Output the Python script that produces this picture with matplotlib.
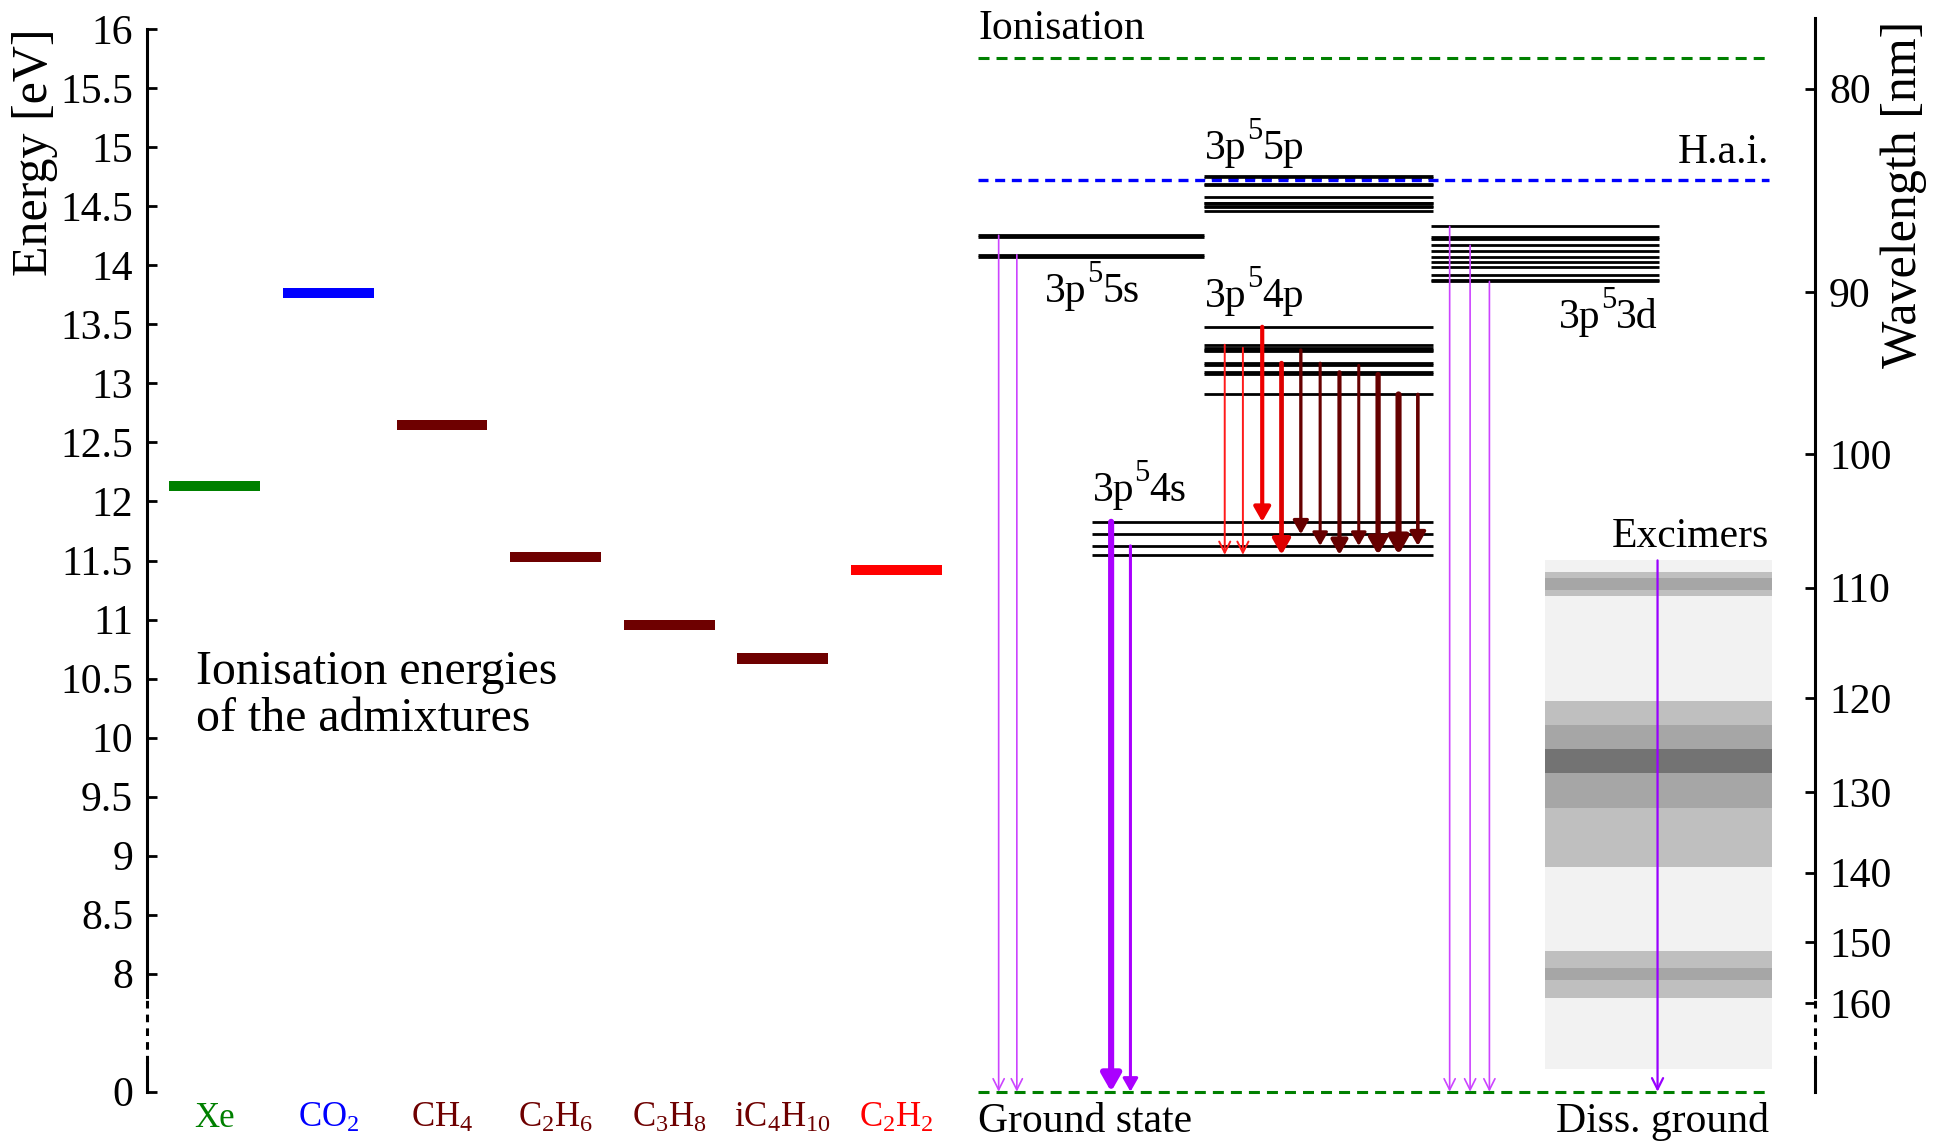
import numpy as np
import matplotlib.pyplot as plt
from matplotlib.font_manager import FontProperties

plt.rcParams['font.family'] = ['Liberation Serif', 'DejaVu Serif']
plt.rcParams['mathtext.fontset'] = 'custom'
plt.rcParams['mathtext.rm'] = 'Liberation Serif'
plt.rcParams['mathtext.it'] = 'Liberation Serif:italic'
plt.rcParams['mathtext.bf'] = 'Liberation Serif:bold'

HC = 1239.84      # eV*nm
GROUND = 7.0      # "0 eV" sits here on the broken axis

# left panel: ionisation energies of the admixtures
gases = ['Xe', 'CO$_2$', 'CH$_4$', 'C$_2$H$_6$', 'C$_3$H$_8$', 'iC$_4$H$_{10}$', 'C$_2$H$_2$']
ion_energy = [12.13, 13.77, 12.65, 11.53, 10.95, 10.67, 11.42]
gas_colors = ['#008000', '#0000ff', '#6e0000', '#6e0000', '#6e0000', '#6e0000', '#ff0000']

# argon levels [eV]
E_ION = 15.76
E_HAI = 14.72
lev_5p = [14.464, 14.499, 14.506, 14.525, 14.529, 14.576, 14.681, 14.688, 14.738, 14.757]
lev_5s = [14.068, 14.090, 14.241, 14.255]
lev_4p = [12.907, 13.076, 13.095, 13.153, 13.172, 13.273, 13.283, 13.302, 13.328, 13.480]
lev_3d = [13.864, 13.875, 13.92, 13.99, 14.03, 14.07, 14.12, 14.17, 14.225, 14.24, 14.33]
lev_4s = [11.548, 11.624, 11.723, 11.828]

# 4p -> 4s transitions
p_x = [8.89, 9.05, 9.22, 9.39, 9.56, 9.73, 9.90, 10.07, 10.24, 10.42, 10.59]
p_upper = [13.328, 13.302, 13.480, 13.172, 13.283, 13.172, 13.095, 13.153, 13.076, 12.907, 12.907]
p_lower = [11.548, 11.548, 11.828, 11.548, 11.723, 11.624, 11.548, 11.624, 11.548, 11.548, 11.624]
p_lw = [0.7, 0.7, 1.5, 1.7, 1.2, 1.1, 1.5, 1.1, 1.9, 2.2, 1.3]
p_col = ['#ff1a1a', '#ff1a1a', '#ee0000', '#dd0000', '#660000', '#660000',
         '#660000', '#660000', '#660000', '#660000', '#660000']

# transitions to the ground state
g_x = [6.90, 7.06, 7.89, 8.06, 10.87, 11.05, 11.22]
g_upper = [14.255, 14.090, 11.828, 11.624, 14.33, 14.17, 13.864]
g_lw = [0.6, 0.6, 2.2, 1.1, 0.6, 0.6, 0.6]
g_col = ['#cc44ff', '#cc44ff', '#aa00ff', '#aa00ff', '#cc44ff', '#cc44ff', '#cc44ff']

# excimer emission bands [nm]
exc_bg = (107.8, 172.4)
exc_bands = [(108.7, 110.7, '#bfbfbf'), (109.2, 110.2, '#a6a6a6'),
             (120.3, 139.2, '#bfbfbf'), (122.7, 131.9, '#a6a6a6'), (125.2, 127.8, '#737373'),
             (151.3, 159.0, '#bfbfbf'), (154.0, 156.1, '#a6a6a6')]

energy_ticks = [GROUND] + list(np.arange(8, 16.01, 0.5))
energy_labels = ['0'] + [f'{v:g}' for v in np.arange(8, 16.01, 0.5)]
wl_ticks = [80, 90, 100, 110, 120, 130, 140, 150, 160]

fig = plt.figure(figsize=(9.735, 5.705), dpi=200)
ax = fig.add_axes([0.0755, 0.0432, 0.8567, 0.9311])
ax.set_xlim(-0.597, 14.086)
ax.set_ylim(GROUND, 16)
for s in ax.spines.values():
    s.set_visible(False)
ax.set_xticks([])
ax.set_yticks(energy_ticks)
ax.set_yticklabels(energy_labels)
ax.tick_params(axis='y', direction='in', length=3.6, width=1.0, labelsize=15, pad=5)

ax2 = ax.twinx()
ax2.set_ylim(GROUND, 16)
for s in ax2.spines.values():
    s.set_visible(False)
ax2.set_yticks([HC / w for w in wl_ticks])
ax2.set_yticklabels([str(w) for w in wl_ticks])
ax2.tick_params(axis='y', direction='in', length=3.6, width=1.0, labelsize=15, pad=5)

# broken spines
trans = ax.get_yaxis_transform()
for xs, top in [(0, 16.0), (1, 16.1)]:
    ax.plot([xs, xs], [7.8, top], transform=trans, clip_on=False, color='k', lw=1.1)
    ax.plot([xs, xs], [7.24, 7.8], transform=trans, clip_on=False, color='k', lw=1.1,
            linestyle=(0, (2.5, 2.0)))
    ax.plot([xs, xs], [GROUND, 7.24], transform=trans, clip_on=False, color='k', lw=1.1)

ax.text(-0.0671, 0.8845, 'Energy [eV]', transform=ax.transAxes, rotation=90,
        ha='center', va='center', fontsize=18)
ax.text(1.0534, 0.845, 'Wavelength [nm]', transform=ax.transAxes, rotation=90,
        ha='center', va='center', fontsize=18)

# left panel
xcat = np.arange(len(gases))
ax.bar(xcat, 0.085, bottom=np.array(ion_energy) - 0.0425, width=0.8, color=gas_colors)
for x, g, c in zip(xcat, gases, gas_colors):
    ax.text(x, 6.70, g, color=c, ha='center', va='baseline', fontsize=12.5, clip_on=False)
ax.text(-0.165, 10.452, 'Ionisation energies', fontsize=17.2, va='baseline')
ax.text(-0.165, 10.054, 'of the admixtures', fontsize=17.2, va='baseline')

# right panel: reference lines
ax.hlines([E_ION, GROUND], 6.72, 13.68, color='#008000', lw=1.1, linestyle=(0, (3.6, 2.3)),
          zorder=4, clip_on=False)
ax.hlines(E_HAI, 6.72, 13.68, color='#0000ff', lw=1.2, linestyle=(0, (3.0, 2.0)),
          gapcolor='white', zorder=4)

# excimer bands
ax.fill_between([11.71, 13.71], HC / exc_bg[1], HC / exc_bg[0], color='#f2f2f2', lw=0, zorder=1)
for w1, w2, c in exc_bands:
    ax.fill_between([11.71, 13.71], HC / w2, HC / w1, color=c, lw=0, zorder=1)

# levels
ax.hlines(lev_5s, 6.72, 8.71, color='k', lw=1.0, zorder=3)
ax.hlines(lev_5p, 8.71, 10.72, color='k', lw=1.0, zorder=3)
ax.hlines(lev_4p, 8.71, 10.72, color='k', lw=1.0, zorder=3)
ax.hlines(lev_4s, 7.72, 10.72, color='k', lw=1.0, zorder=3)
ax.hlines(lev_3d, 10.71, 12.71, color='k', lw=1.0, zorder=3)


def arrow(x, e_top, e_bot, color, lw, filled):
    style = '-|>,head_length=0.35,head_width=0.2' if filled else '->,head_length=0.4,head_width=0.2'
    ms = 8 + 3 * lw if filled else 10
    ax.annotate('', xy=(x, e_bot), xytext=(x, e_top), zorder=5,
                arrowprops=dict(arrowstyle=style, color=color, lw=lw,
                                shrinkA=0, shrinkB=0, mutation_scale=ms))


for i in range(len(p_x)):
    arrow(p_x[i], p_upper[i], p_lower[i], p_col[i], p_lw[i], i >= 2)
for i in range(len(g_x)):
    arrow(g_x[i], g_upper[i], GROUND, g_col[i], g_lw[i], g_lw[i] > 1)
arrow(12.70, HC / exc_bg[0], GROUND, '#9900ff', 0.8, False)

# labels
fs = 15
fs_sup = 11
renderer = fig.canvas.get_renderer()


def text_w(s, size):
    w, h, d = renderer.get_text_width_height_descent(s, FontProperties(size=size), ismath=False)
    return w * 72 / fig.dpi


def level_label(x, y, pre, sup, post, ha='left'):
    # exponent placed by hand so it sits high like in the original
    w_pre, w_sup, w_post = text_w(pre, fs), text_w(sup, fs_sup), text_w(post, fs)
    start = 0 if ha == 'left' else -(w_pre + w_sup + w_post)
    for s, size, dx, dy in [(pre, fs, 0, 0), (sup, fs_sup, w_pre, 7.2),
                            (post, fs, w_pre + w_sup, 0)]:
        ax.annotate(s, (x, y), xytext=(start + dx, dy), textcoords='offset points',
                    fontsize=size, va='baseline', ha='left')


ax.text(6.72, 15.922, 'Ionisation', fontsize=fs, va='baseline', clip_on=False)
ax.text(13.68, 14.87, 'H.a.i.', fontsize=fs, va='baseline', ha='right')
level_label(8.72, 14.90, '3p', '5', '5p')
level_label(7.31, 13.69, '3p', '5', '5s')
level_label(8.72, 13.65, '3p', '5', '4p')
level_label(12.70, 13.47, '3p', '5', '3d', ha='right')
level_label(7.73, 12.00, '3p', '5', '4s')
ax.text(13.68, 11.615, 'Excimers', fontsize=fs, va='baseline', ha='right')
ax.text(6.72, 6.66, 'Ground state', fontsize=fs, va='baseline', clip_on=False)
ax.text(13.68, 6.66, 'Diss. ground', fontsize=fs, va='baseline', ha='right', clip_on=False)

fig.savefig('out.png', dpi=200)
